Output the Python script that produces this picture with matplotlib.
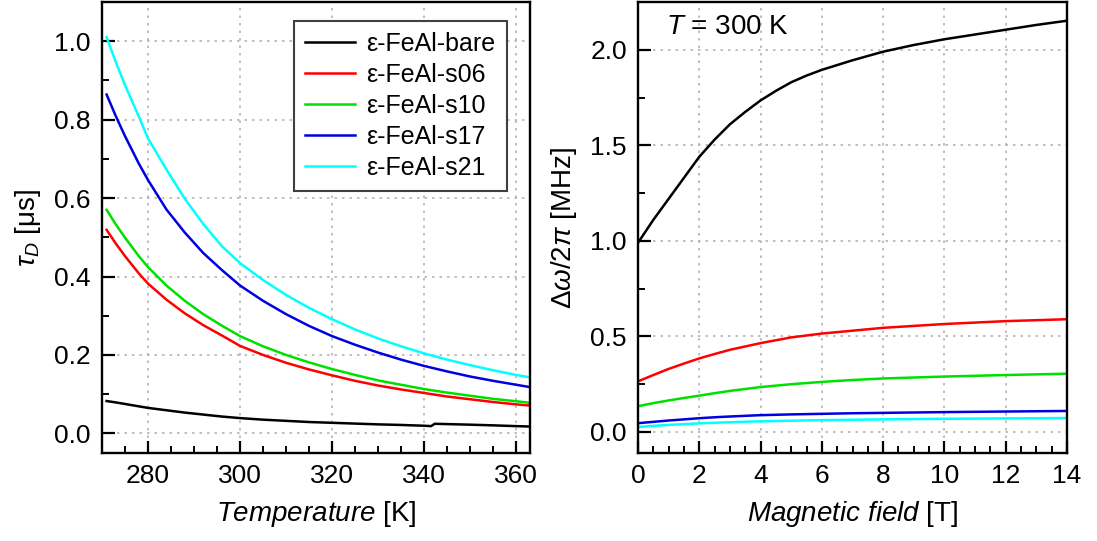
import matplotlib
matplotlib.use('Agg')
import matplotlib.pyplot as plt
from matplotlib.ticker import MultipleLocator

plt.rcParams['font.family'] = ['Liberation Sans', 'DejaVu Sans']
plt.rcParams['mathtext.fontset'] = 'custom'
plt.rcParams['mathtext.rm'] = 'Liberation Sans'
plt.rcParams['mathtext.it'] = 'Liberation Sans:italic'

# ---- left panel: tau_D vs temperature ----
temp = [271, 273, 275, 278, 280, 284, 288, 292, 296, 300, 305, 310, 315,
        320, 325, 330, 335, 340, 345, 350, 355, 360, 363]
tau_s06 = [0.519, 0.484, 0.452, 0.408, 0.382, 0.341, 0.306, 0.276, 0.250, 0.223,
           0.200, 0.180, 0.163, 0.148, 0.134, 0.122, 0.112, 0.103, 0.094, 0.087,
           0.080, 0.074, 0.071]
tau_s10 = [0.570, 0.533, 0.499, 0.452, 0.424, 0.377, 0.338, 0.304, 0.275, 0.248,
           0.222, 0.200, 0.181, 0.164, 0.149, 0.135, 0.124, 0.113, 0.104, 0.096,
           0.088, 0.082, 0.078]
tau_s17 = [0.864, 0.809, 0.758, 0.688, 0.646, 0.571, 0.512, 0.460, 0.417, 0.377,
           0.338, 0.304, 0.274, 0.248, 0.226, 0.206, 0.188, 0.172, 0.158, 0.145,
           0.134, 0.124, 0.118]
tau_s21 = [1.010, 0.947, 0.888, 0.808, 0.752, 0.673, 0.598, 0.534, 0.478, 0.434,
           0.391, 0.353, 0.320, 0.291, 0.265, 0.242, 0.222, 0.204, 0.188, 0.174,
           0.161, 0.149, 0.143]
temp_bare = [271, 273, 275, 278, 280, 284, 288, 292, 296, 300, 305, 310, 315,
             320, 325, 330, 335, 340, 341.5, 342.3, 345, 350, 355, 360, 363]
tau_bare = [0.0825, 0.079, 0.075, 0.069, 0.065, 0.059, 0.053, 0.048, 0.043, 0.039,
            0.035, 0.032, 0.029, 0.027, 0.025, 0.023, 0.0215, 0.0195, 0.0185, 0.0245,
            0.0237, 0.0222, 0.0205, 0.0185, 0.0175]

# ---- right panel: linewidth vs magnetic field at 300 K ----
field_bare = [0, 0.25, 0.5, 0.75, 1, 1.25, 1.5, 1.75, 2, 2.5, 3, 3.5, 4, 4.5, 5,
              5.5, 6, 7, 8, 9, 10, 11, 12, 13, 14]
dw_bare = [0.99, 1.05, 1.11, 1.165, 1.22, 1.275, 1.33, 1.385, 1.44, 1.53, 1.61,
           1.675, 1.735, 1.785, 1.83, 1.865, 1.895, 1.945, 1.99, 2.025, 2.055,
           2.08, 2.105, 2.13, 2.152]
field = [0, 0.5, 1, 1.5, 2, 2.5, 3, 4, 5, 6, 7, 8, 10, 12, 14]
dw_s06 = [0.265, 0.298, 0.33, 0.358, 0.385, 0.408, 0.43, 0.465, 0.495, 0.515,
          0.53, 0.545, 0.565, 0.58, 0.59]
dw_s10 = [0.135, 0.151, 0.165, 0.178, 0.19, 0.203, 0.215, 0.235, 0.25, 0.262,
          0.272, 0.28, 0.29, 0.298, 0.305]
dw_s17 = [0.046, 0.053, 0.060, 0.066, 0.072, 0.077, 0.081, 0.088, 0.092, 0.095,
          0.098, 0.100, 0.104, 0.107, 0.110]
dw_s21 = [0.026, 0.032, 0.037, 0.041, 0.045, 0.048, 0.051, 0.056, 0.059, 0.062,
          0.064, 0.066, 0.069, 0.071, 0.073]

labels = ['ε-FeAl-bare', 'ε-FeAl-s06', 'ε-FeAl-s10', 'ε-FeAl-s17', 'ε-FeAl-s21']
colors = ['black', '#ff0000', '#00e000', '#0000e0', '#00ffff']

fig = plt.figure(figsize=(10.97, 5.41), dpi=100)
ax1 = fig.add_axes([102 / 1097, 1 - 453 / 541, 428 / 1097, 451 / 541])
ax2 = fig.add_axes([638 / 1097, 1 - 453 / 541, 429 / 1097, 451 / 541])

ax1.plot(temp_bare, tau_bare, color=colors[0], lw=1.8, label=labels[0])
for ys, c, lab in zip([tau_s06, tau_s10, tau_s17, tau_s21], colors[1:], labels[1:]):
    ax1.plot(temp, ys, color=c, lw=1.8, label=lab)

ax2.plot(field_bare, dw_bare, color=colors[0], lw=1.8)
for ys, c in zip([dw_s06, dw_s10, dw_s17, dw_s21], colors[1:]):
    ax2.plot(field, ys, color=c, lw=1.8)

ax1.set_xlim(270, 363)
ax1.set_ylim(-0.05, 1.1)
ax1.xaxis.set_major_locator(MultipleLocator(20))
ax1.xaxis.set_minor_locator(MultipleLocator(5))
ax1.yaxis.set_major_locator(MultipleLocator(0.2))
ax1.yaxis.set_minor_locator(MultipleLocator(0.1))
ax1.set_xlabel(r'$\it{Temperature}$ [K]', fontsize=20, labelpad=8)
ax1.set_ylabel(r'$\tau_D$ [μs]', fontsize=20, labelpad=8)

ax2.set_xlim(0, 14)
ax2.set_ylim(-0.11, 2.25)
ax2.xaxis.set_major_locator(MultipleLocator(2))
ax2.xaxis.set_minor_locator(MultipleLocator(0.5))
ax2.yaxis.set_major_locator(MultipleLocator(0.5))
ax2.yaxis.set_minor_locator(MultipleLocator(0.25))
ax2.set_xlabel(r'$\it{Magnetic\ field}$ [T]', fontsize=20, labelpad=8)
ax2.set_ylabel(r'$\Delta\omega/2\pi$ [MHz]', fontsize=20, labelpad=8)
ax2.text(0.065, 0.945, r'$T$ = 300 K', transform=ax2.transAxes, fontsize=20,
         va='center', ha='left')

for ax in (ax1, ax2):
    ax.grid(True, which='major', color='#b4b4b4', linestyle=(0, (1.5, 3)), lw=1.2)
    ax.tick_params(which='both', direction='in', labelsize=19, top=False, right=False)
    ax.tick_params(which='major', length=9, width=1.6, pad=8)
    ax.tick_params(which='minor', length=5, width=1.4)
    for s in ax.spines.values():
        s.set_linewidth(1.7)

leg = ax1.legend(loc='upper right', bbox_to_anchor=(0.946, 0.958), borderaxespad=0,
                 fontsize=18, fancybox=False, edgecolor='#404040', handlelength=2.0,
                 handletextpad=0.45, labelspacing=0.28, borderpad=0.45, framealpha=1)
leg.get_frame().set_linewidth(1.5)

fig.savefig('out.png', dpi=100)
